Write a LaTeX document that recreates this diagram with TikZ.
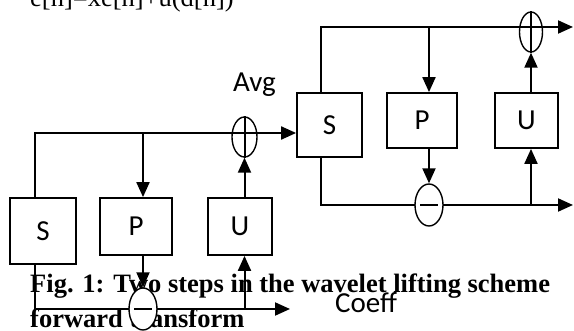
\documentclass[tikz,border=0pt]{standalone}
\usepackage{fontspec}
\setmainfont{Liberation Serif}
\newfontfamily\lblfont{Carlito}
\usetikzlibrary{shapes.geometric,arrows.meta,calc}

\begin{document}
\begin{tikzpicture}[x=1pt,y=-1pt,
  blk/.style={draw,line width=1.8pt,fill=white,inner sep=0pt,
    font=\lblfont\fontsize{29}{32}\selectfont},
  sumnode/.style={draw,ellipse,line width=1.4pt,inner sep=0pt},
  wire/.style={line width=2pt},
  arr/.style={wire,-{Triangle[length=15pt,width=13pt]}},
  lbl/.style={inner sep=0pt,anchor=base west,font=\lblfont\fontsize{29}{32}\selectfont},
  captxt/.style={inner sep=0pt,anchor=base west,font=\fontsize{26.5}{30}\selectfont\bfseries},
  eqtxt/.style={inner sep=0pt,anchor=base west,font=\fontsize{26.5}{30}\selectfont}]
\useasboundingbox (0,0) rectangle (574,331);

% equation and caption text (lie underneath the diagram)
\node[eqtxt] (eq) at (30,7) {e[n]=xe[n]+u(d[n])};
\node[captxt] (cap1) at (30,293) {Fig. 1: Two steps in the wavelet lifting scheme};
\node[captxt] (cap2) at (30,328) {forward transform};

% first lifting step: split, predict, update
\node[blk,minimum width=66pt,minimum height=66pt] (S1) at (43,231) {S};
\node[blk,minimum width=72pt,minimum height=57pt] (P1) at (136,226.5) {P};
\node[blk,minimum width=64pt,minimum height=57pt] (U1) at (240,226.5) {U};

% second lifting step
\node[blk,minimum width=65pt,minimum height=64pt] (S2) at (329.5,125) {S};
\node[blk,minimum width=70pt,minimum height=55pt] (P2) at (422,120.5) {P};
\node[blk,minimum width=63pt,minimum height=55pt] (U2) at (526.5,120.5) {U};

% adders / subtractors
\node[sumnode,minimum width=25pt,minimum height=40pt] (A1) at (244.5,137) {};
\node[sumnode,minimum width=23pt,minimum height=40pt] (A2) at (531,32) {};
\coordinate (M1c) at (143,309);
\coordinate (M2c) at (429,205);

% wire corners and free ends
\coordinate (j1) at (35,133);
\coordinate (j2) at (35,309);
\coordinate (o1) at (290,309);
\coordinate (k1) at (321,27);
\coordinate (k2) at (321,205);
\coordinate (o2) at (573,27);
\coordinate (o3) at (573,205);

% first step wiring
\draw[arr] (S1.north -| j1) -- (j1) -- (S2.west |- j1);
\draw[arr] (S1.south -| j2) -- (j2) -- (o1);
\draw[arr] (M1c |- j1) -- (P1.north -| M1c);
\draw[arr] (A1 |- j2) -- (U1.south -| A1);
\draw[arr] (U1.north -| A1) -- (A1.south);
\draw[wire] (A1.north) -- (A1.south);

% second step wiring
\draw[arr] (S2.north -| k1) -- (k1) -- (o2);
\draw[arr] (S2.south -| k1) -- (k2) -- (o3);
\draw[arr] (M2c |- k1) -- (P2.north -| M2c);
\draw[arr] (A2 |- k2) -- (U2.south -| A2);
\draw[arr] (U2.north -| A2) -- (A2.south);
\draw[wire] (A2.north) -- (A2.south);

% subtractors sit on top of the wires
\node[sumnode,fill=white,minimum width=28pt,minimum height=42pt] (M1) at (M1c) {};
\node[sumnode,fill=white,minimum width=28pt,minimum height=42pt] (M2) at (M2c) {};
\draw[wire] ($(M1.center)+(-9,0)$) -- ($(M1.center)+(9,0)$);
\draw[wire] ($(M2.center)+(-9,0)$) -- ($(M2.center)+(9,0)$);
\draw[arr] (P1.south -| M1) -- (M1.north);
\draw[arr] (P2.south -| M2) -- (M2.north);

% output labels
\node[lbl] (avg) at (233,92) {Avg};
\node[lbl] (coeff) at (335,313) {Coeff};
\end{tikzpicture}
\end{document}
